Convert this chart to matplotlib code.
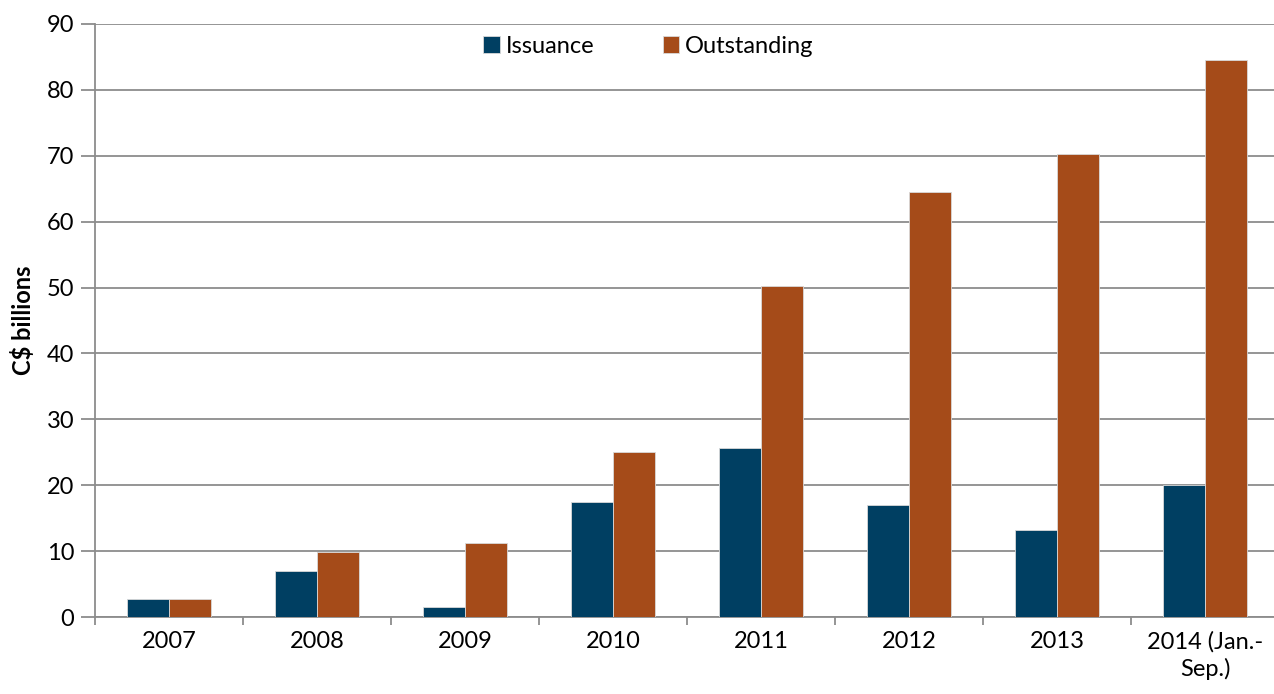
import numpy as np
import matplotlib.pyplot as plt

plt.rcParams['font.family'] = ['Lato', 'DejaVu Sans']

# data
years = ['2007', '2008', '2009', '2010', '2011', '2012', '2013', '2014 (Jan.-\nSep.)']
issuance = [2.8, 7.0, 1.5, 17.4, 25.7, 17.0, 13.2, 20.1]
outstanding = [2.8, 9.8, 11.3, 25.0, 50.3, 64.5, 70.3, 84.5]

col_iss = '#003F62'
col_out = '#A54B19'
grid_col = '#8C8C8C'

fig = plt.figure(figsize=(12.74, 6.94), dpi=100)
ax = fig.add_axes([95 / 1274, 77 / 694, (1279 - 95) / 1274, 593 / 694])

x = np.arange(len(years))
w = 0.285
ax.bar(x - w / 2, issuance, w, color=col_iss, edgecolor='#d9d9d9', linewidth=0.6,
       label='Issuance', zorder=3)
ax.bar(x + w / 2, outstanding, w, color=col_out, edgecolor='#d9d9d9', linewidth=0.6,
       label='Outstanding', zorder=3)

ax.set_xlim(-0.5, len(years) - 0.5)
ax.set_ylim(0, 90)
ax.set_yticks(range(0, 91, 10))
ax.yaxis.grid(True, color=grid_col, linewidth=1.3, zorder=0)

# category ticks at boundaries, labels centred
ax.set_xticks(np.arange(len(years) + 1) - 0.5)
ax.set_xticklabels([])
ax.set_xticks(x, minor=True)
ax.set_xticklabels(years, minor=True, fontsize=17, linespacing=1.3)
ax.tick_params(axis='x', which='minor', length=0, pad=10)
ax.tick_params(axis='x', which='major', length=6, width=1.3, color=grid_col, direction='out')
ax.tick_params(axis='y', length=10, width=1.3, color=grid_col, labelsize=17, pad=5)

for s in ['top', 'right']:
    ax.spines[s].set_visible(False)
for s in ['left', 'bottom']:
    ax.spines[s].set_color(grid_col)
    ax.spines[s].set_linewidth(1.3)

ax.set_ylabel('C$ billions', fontsize=17, fontweight='bold', labelpad=8)

ax.legend(loc='upper center', bbox_to_anchor=(0.4675, 1.0), ncol=2, frameon=False,
          fontsize=17, handlelength=0.7, handleheight=0.7, handletextpad=0.25,
          columnspacing=2.9, borderaxespad=0.1)

fig.savefig('out.png', dpi=100)
